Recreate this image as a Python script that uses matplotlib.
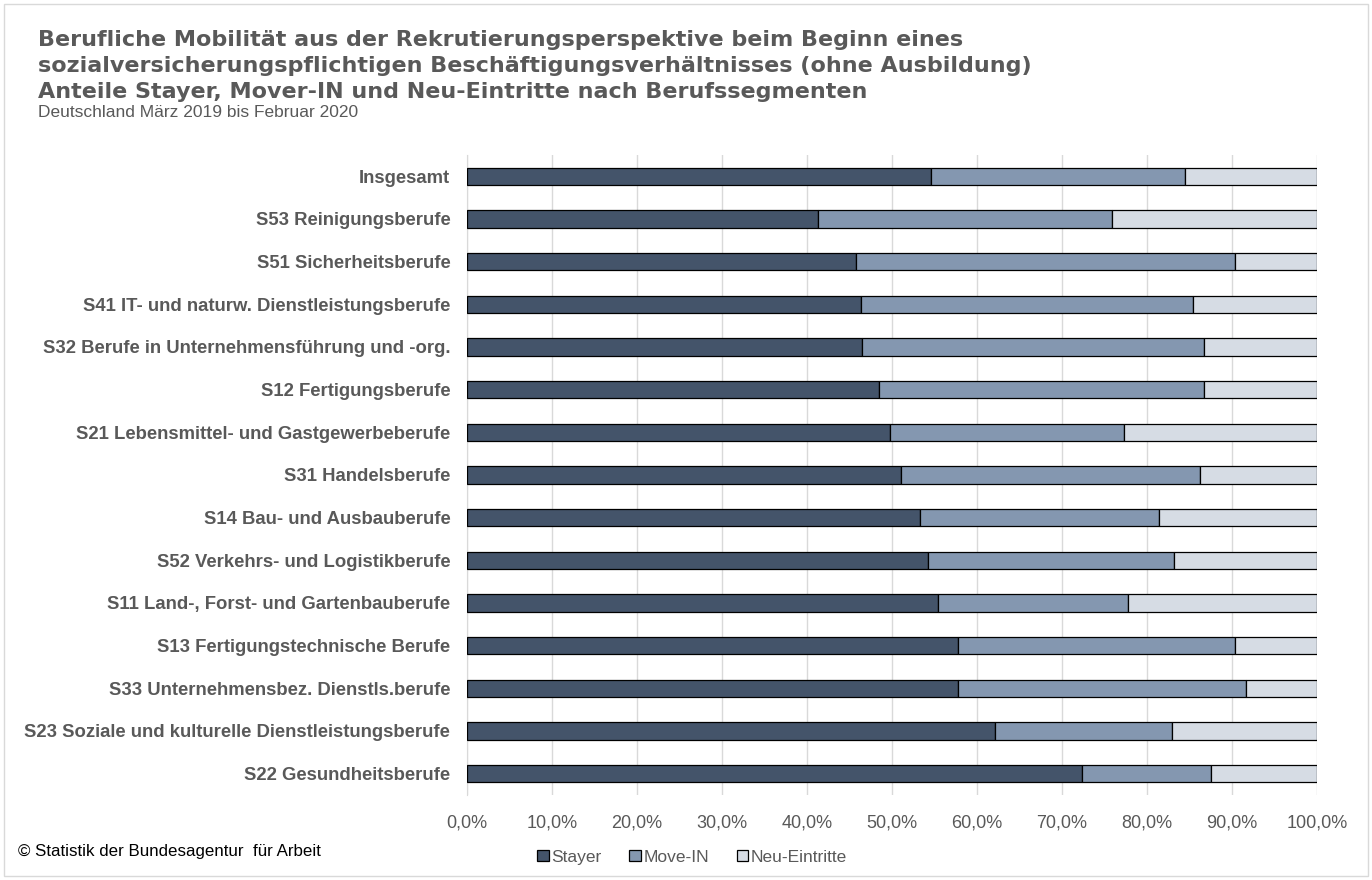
import matplotlib
matplotlib.use("Agg")
import matplotlib.pyplot as plt
from matplotlib.patches import Rectangle
import numpy as np

plt.rcParams['font.family'] = ['Liberation Sans', 'DejaVu Sans']

# Werte in Prozent, von oben nach unten
categories = [
    "Insgesamt",
    "S53 Reinigungsberufe",
    "S51 Sicherheitsberufe",
    "S41 IT- und naturw. Dienstleistungsberufe",
    "S32 Berufe in Unternehmensführung und -org.",
    "S12 Fertigungsberufe",
    "S21 Lebensmittel- und Gastgewerbeberufe",
    "S31 Handelsberufe",
    "S14 Bau- und Ausbauberufe",
    "S52 Verkehrs- und Logistikberufe",
    "S11 Land-, Forst- und Gartenbauberufe",
    "S13 Fertigungstechnische Berufe",
    "S33 Unternehmensbez. Dienstls.berufe",
    "S23 Soziale und kulturelle Dienstleistungsberufe",
    "S22 Gesundheitsberufe",
]
stayer = [54.6, 41.3, 45.7, 46.4, 46.5, 48.5, 49.7, 51.1, 53.3, 54.2, 55.4, 57.8, 57.8, 62.1, 72.4]
mover_in = [29.9, 34.6, 44.6, 39.0, 40.2, 38.2, 27.6, 35.1, 28.1, 29.0, 22.3, 32.5, 33.8, 20.8, 15.1]
neu_eintritte = [15.5, 24.1, 9.7, 14.6, 13.3, 13.3, 22.7, 13.8, 18.6, 16.8, 22.3, 9.7, 8.4, 17.1, 12.5]
series_names = ["Stayer", "Move-IN", "Neu-Eintritte"]
tick_labels = ["0,0%", "10,0%", "20,0%", "30,0%", "40,0%", "50,0%",
               "60,0%", "70,0%", "80,0%", "90,0%", "100,0%"]
title_lines = [
    "Berufliche Mobilität aus der Rekrutierungsperspektive beim Beginn eines",
    "sozialversicherungspflichtigen Beschäftigungsverhältnisses (ohne Ausbildung)",
    "Anteile Stayer, Mover-IN und Neu-Eintritte nach Berufssegmenten",
]

colors = ["#44546A", "#8497B0", "#D6DCE4"]
grey = "#595959"
W, H = 1372, 880

fig = plt.figure(figsize=(13.72, 8.8), dpi=100)
ax = fig.add_axes([0.3404, 0.0966, 0.6196, 0.7273])

y = np.arange(len(categories))
left = np.zeros(len(categories))
for vals, name, c in zip([stayer, mover_in, neu_eintritte], series_names, colors):
    ax.barh(y, vals, left=left, height=0.4, color=c, edgecolor="black",
            linewidth=0.9, label=name, zorder=3)
    left = left + np.array(vals)

ax.set_ylim(len(categories) - 0.5, -0.5)
ax.set_xlim(0, 100)
ax.set_yticks(y)
ax.set_yticklabels(categories, fontsize=13.3, fontweight="bold", color=grey)
ax.set_xticks(np.arange(0, 101, 10))
ax.set_xticklabels(tick_labels, fontsize=13, color=grey)
ax.tick_params(axis="y", length=0, pad=12)
ax.tick_params(axis="x", length=0, pad=14)
ax.grid(axis="x", color="#D9D9D9", linewidth=1, zorder=0)
for s in ["top", "right", "bottom"]:
    ax.spines[s].set_visible(False)
ax.spines["left"].set_color("#D9D9D9")

# Titel zeilenweise, Grundlinien aus der Vorlage
for line, base in zip(title_lines, [46, 72, 98]):
    fig.text(38 / W, 1 - base / H, line, fontsize=16, fontweight="bold",
             color=grey, va="baseline", ha="left", family="DejaVu Sans")
fig.text(38 / W, 1 - 117 / H, "Deutschland März 2019 bis Februar 2020",
         fontsize=12.5, color=grey, va="baseline", ha="left")
fig.text(18 / W, 1 - 851 / H, "© Statistik der Bundesagentur  für Arbeit",
         fontsize=12.2, color="black", va="center", ha="left")

fig.legend(loc="center", bbox_to_anchor=(692 / W, 1 - 857 / H), ncol=3,
           frameon=False, fontsize=12.5, handlelength=0.65, handleheight=0.65,
           handletextpad=0.15, columnspacing=1.6, labelcolor=grey)

fig.patches.append(Rectangle((4 / W, 4 / H), 1 - 8 / W, 1 - 8 / H,
                             transform=fig.transFigure, fill=False,
                             edgecolor="#D9D9D9", linewidth=1))

fig.savefig("out.png", dpi=100)
